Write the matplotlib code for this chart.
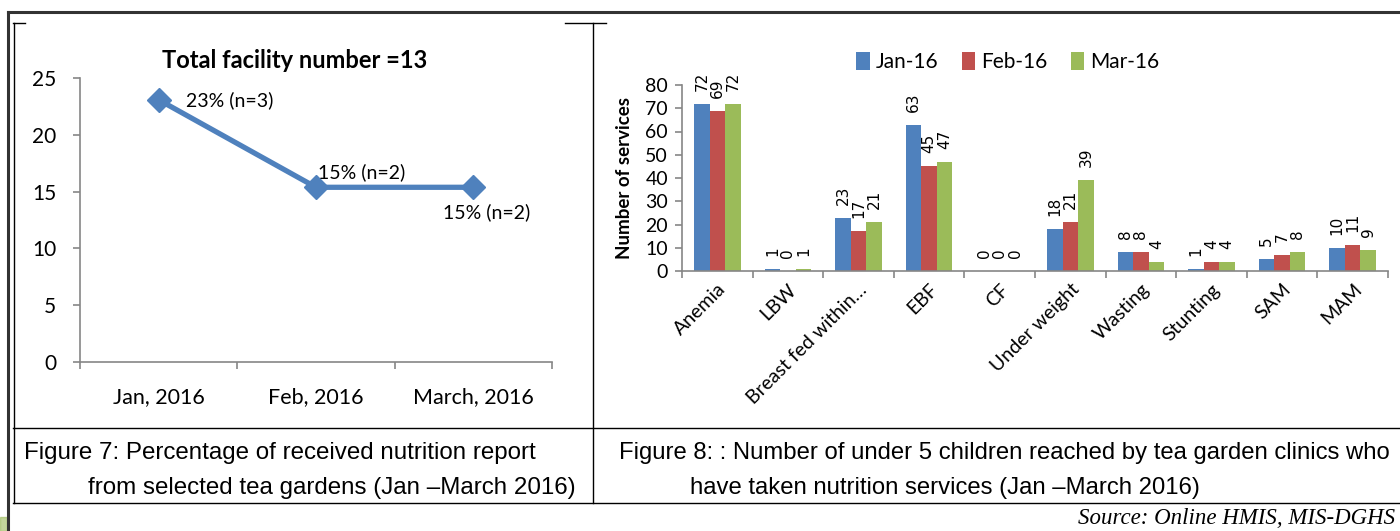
import numpy as np
import matplotlib.pyplot as plt
from matplotlib.lines import Line2D
from matplotlib.patches import Rectangle

# ---------------------------------------------------------------- data
months = ['Jan, 2016', 'Feb, 2016', 'March, 2016']
pct_received = [23.08, 15.38, 15.38]
pct_labels = ['23% (n=3)', '15% (n=2)', '15% (n=2)']

services = ['Anemia', 'LBW', 'Breast fed within\u2026', 'EBF', 'CF',
            'Under weight', 'Wasting', 'Stunting', 'SAM', 'MAM']
jan16 = [72, 1, 23, 63, 0, 18, 8, 1, 5, 10]
feb16 = [69, 0, 17, 45, 0, 21, 8, 4, 7, 11]
mar16 = [72, 1, 21, 47, 0, 39, 4, 4, 8, 9]
series_names = ['Jan-16', 'Feb-16', 'Mar-16']

W, H = 1400, 531
blue, red, green = '#4F81BD', '#C0504D', '#9BBB59'
axis_grey = '#868686'
chart_font = ['Lato', 'DejaVu Sans']
caption_font = ['Liberation Sans']
#-----------------------------------------------------------------------------
def rect(l, t, r, b):
  return [l / W, 1 - b / H, (r - l) / W, (b - t) / H]

def hline(fig, y, x0, x1, lw=1.0, c='black'):
  fig.add_artist(Line2D([x0 / W, x1 / W], [1 - y / H, 1 - y / H], lw=lw, color=c,
                        transform=fig.transFigure))

def vline(fig, x, y0, y1, lw=1.0, c='black'):
  fig.add_artist(Line2D([x / W, x / W], [1 - y0 / H, 1 - y1 / H], lw=lw, color=c,
                        transform=fig.transFigure))

def style_axes(ax):
  for s in ['top', 'right']:
    ax.spines[s].set_visible(False)
  for s in ['left', 'bottom']:
    ax.spines[s].set_color(axis_grey)
    ax.spines[s].set_linewidth(1.2)
  ax.tick_params(which='major', color=axis_grey, length=5, width=1.2)
  ax.set_facecolor('none')

fig = plt.figure(figsize=(W / 100, H / 100), dpi=100)

# ---------------------------------------------------------------- page frame
hline(fig, 12, 8, 1400, lw=2.2, c='#333333')
vline(fig, 8, 12, 531, lw=2.2, c='#333333')
fig.add_artist(Rectangle((0, 0), 7 / W, 14 / H, color='#9BBB59', alpha=0.6,
                         transform=fig.transFigure))
hline(fig, 23, 13, 25)
hline(fig, 23, 565, 606)
vline(fig, 13.5, 23, 503)
vline(fig, 592.5, 23, 503)
hline(fig, 428, 13, 1400)
hline(fig, 503, 13, 1400)

# ---------------------------------------------------------------- figure 7
ax = fig.add_axes(rect(80, 78, 552, 362))
style_axes(ax)
x = np.arange(len(months)) + 0.5
ax.plot(x, pct_received, color=blue, lw=3.8, marker='D', ms=12, mec=blue, mfc=blue)
ax.set_xlim(0, 3)
ax.set_ylim(0, 25)
ax.set_yticks(range(0, 26, 5))
ax.set_xticks(range(4))
ax.set_xticklabels([])
ax.set_xticks(x, minor=True)
ax.set_xticklabels(months, minor=True, fontsize=15.5, family=chart_font)
ax.tick_params(axis='x', which='minor', length=0, pad=18)
for t in ax.get_yticklabels():
  t.set_fontsize(15)
  t.set_family(chart_font)
ax.tick_params(axis='y', pad=12)
offsets = [(27, 0), (2, 15), (-30, -25)]
for xi, yi, lab, off in zip(x, pct_received, pct_labels, offsets):
  ax.annotate(lab, (xi, yi), xytext=off, textcoords='offset pixels',
              ha='left', va='center', fontsize=14, family=chart_font)
fig.text(295 / W, 1 - 60 / H, 'Total facility number =13', ha='center', va='center',
         fontsize=17, fontweight='bold', family=chart_font)

# ---------------------------------------------------------------- figure 8
ax = fig.add_axes(rect(682, 85, 1388, 271))
style_axes(ax)
pos = np.arange(len(services))
bw = 0.22
for k, (vals, col, name) in enumerate(zip([jan16, feb16, mar16], [blue, red, green],
                                           series_names)):
  bars = ax.bar(pos + (k - 1) * bw, vals, bw, color=col, label=name)
  for b, v in zip(bars, vals):
    ax.annotate(str(v), (b.get_x() + b.get_width() / 2, v), xytext=(0, 13),
                textcoords='offset pixels', rotation=90, ha='center', va='bottom',
                fontsize=11, family='DejaVu Sans')
ax.set_xlim(-0.5, len(services) - 0.5)
ax.set_ylim(0, 80)
ax.set_yticks(range(0, 81, 10))
for t in ax.get_yticklabels():
  t.set_fontsize(14)
  t.set_family(chart_font)
ax.tick_params(axis='y', pad=5)
ax.set_xticks(np.arange(len(services) + 1) - 0.5)
ax.set_xticklabels([])
ax.set_xticks(pos, minor=True)
ax.set_xticklabels(services, minor=True, rotation=45, ha='right',
                   rotation_mode='anchor', fontsize=14, family=chart_font)
ax.tick_params(axis='x', which='minor', length=0, pad=7)
ax.set_ylabel('Number of services', fontsize=13.5, fontweight='bold',
              family=chart_font, labelpad=9)
ax.legend(loc='center', bbox_to_anchor=((1008 - 682) / 706, 1 + (85 - 62) / 186),
          ncol=3, frameon=False, handlelength=0.65, handleheight=0.95,
          handletextpad=0.3, columnspacing=1.1,
          prop={'family': chart_font, 'size': 15})

# ---------------------------------------------------------------- captions
fig.text(24 / W, 1 - 453 / H, 'Figure 7: Percentage of received nutrition report',
         ha='left', va='center', fontsize=17.4, family=caption_font)
fig.text(88 / W, 1 - 488 / H, 'from selected tea gardens (Jan \u2013March 2016)',
         ha='left', va='center', fontsize=17.4, family=caption_font)
fig.text(619 / W, 1 - 453 / H,
         'Figure 8: : Number of under 5 children reached by tea garden clinics who',
         ha='left', va='center', fontsize=17.2, family=caption_font)
fig.text(690 / W, 1 - 488 / H, 'have taken nutrition services (Jan \u2013March 2016)',
         ha='left', va='center', fontsize=17.2, family=caption_font)
fig.text(1395 / W, 1 - 518 / H, 'Source: Online HMIS, MIS-DGHS', ha='right',
         va='center', fontsize=16.5, style='italic', family='Liberation Serif')

fig.savefig('out.png', dpi=100)
